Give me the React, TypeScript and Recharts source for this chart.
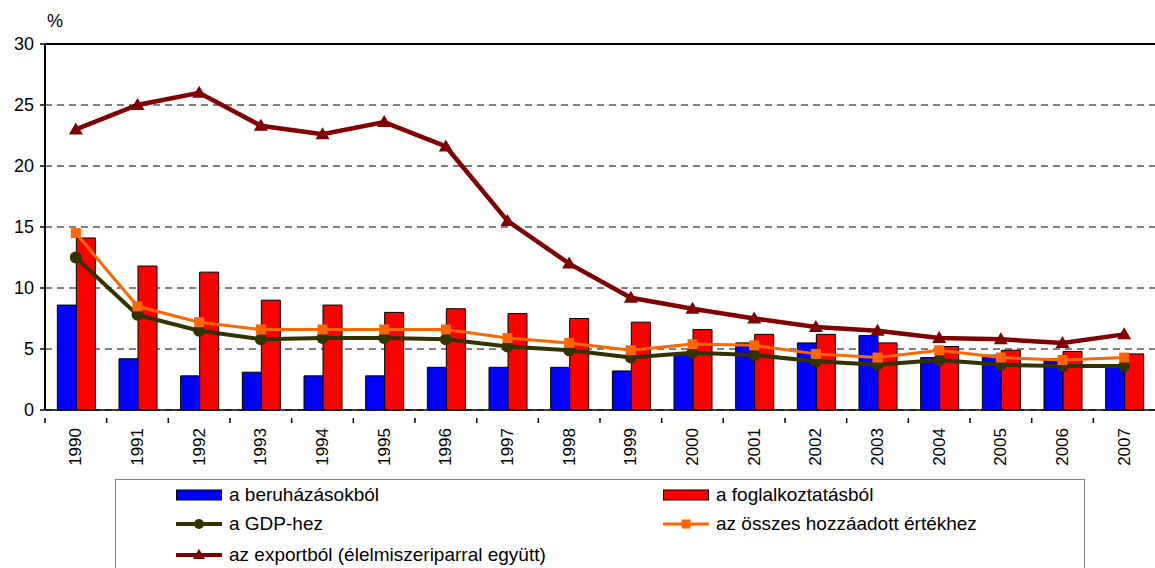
import React from "react";
import {
  ComposedChart,
  Bar,
  Line,
  XAxis,
  YAxis,
  CartesianGrid,
  ReferenceLine,
} from "recharts";

const YEARS = [
  "1990", "1991", "1992", "1993", "1994", "1995", "1996", "1997", "1998",
  "1999", "2000", "2001", "2002", "2003", "2004", "2005", "2006", "2007",
];
const BERUHAZAS = [8.6, 4.2, 2.8, 3.1, 2.8, 2.8, 3.5, 3.5, 3.5, 3.2, 4.6, 5.5, 5.5, 6.1, 4.3, 4.5, 4.2, 3.6];
const FOGLALKOZTATAS = [14.1, 11.8, 11.3, 9.0, 8.6, 8.0, 8.3, 7.9, 7.5, 7.2, 6.6, 6.2, 6.2, 5.5, 5.2, 4.9, 4.8, 4.6];
const GDP = [12.5, 7.8, 6.5, 5.8, 5.9, 5.9, 5.8, 5.2, 4.9, 4.3, 4.7, 4.5, 4.0, 3.7, 4.1, 3.7, 3.6, 3.6];
const OSSZES = [14.5, 8.5, 7.2, 6.6, 6.6, 6.6, 6.6, 5.9, 5.5, 4.9, 5.4, 5.3, 4.6, 4.3, 4.9, 4.3, 4.1, 4.3];
const EXPORT = [23.0, 25.0, 26.0, 23.3, 22.6, 23.6, 21.6, 15.5, 12.0, 9.2, 8.3, 7.5, 6.8, 6.5, 5.9, 5.8, 5.5, 6.2];
const Y_TICKS = [0, 5, 10, 15, 20, 25, 30];

const FONT = '"Liberation Sans", Arial, sans-serif';
const BLUE = "#0000FF";
const RED = "#FF0000";
const OLIVE = "#333300";
const ORANGE = "#FF6600";
const MAROON = "#800000";

const data = YEARS.map((year, i) => ({
  year,
  beruhazas: BERUHAZAS[i],
  foglalkoztatas: FOGLALKOZTATAS[i],
  gdp: GDP[i],
  osszes: OSSZES[i],
  exportt: EXPORT[i],
}));

const W = 1155;
const H = 568;
const Y_AXIS_W = 45;
const X_AXIS_H = 158;
const BAND = (W - Y_AXIS_W) / YEARS.length;

function YearTick(props: any) {
  const { x, y, payload } = props;
  const half = payload?.offset ?? BAND / 2;
  return (
    <g>
      <line x1={x - half} x2={x - half} y1={y} y2={y + 5} stroke="#000" strokeWidth={1.5} />
      <text
        x={x}
        y={y + 10}
        transform={`rotate(-90, ${x}, ${y + 10})`}
        textAnchor="end"
        dominantBaseline="central"
        fontSize={17}
        fontFamily={FONT}
        fill="#000"
      >
        {payload.value}
      </text>
    </g>
  );
}

const triangleDot = (props: any) => {
  const { cx, cy, index } = props;
  if (cx == null || cy == null) return <g key={`t${index}`} />;
  return (
    <polygon
      key={`t${index}`}
      points={`${cx},${cy - 7} ${cx + 7},${cy + 5} ${cx - 7},${cy + 5}`}
      fill={MAROON}
    />
  );
};

const squareDot = (props: any) => {
  const { cx, cy, index } = props;
  if (cx == null || cy == null) return <g key={`s${index}`} />;
  return <rect key={`s${index}`} x={cx - 5} y={cy - 5} width={10} height={10} fill={ORANGE} />;
};

const circleDot = (props: any) => {
  const { cx, cy, index } = props;
  if (cx == null || cy == null) return <g key={`c${index}`} />;
  return <circle key={`c${index}`} cx={cx} cy={cy} r={6} fill={OLIVE} />;
};

function BarSwatch({ color }: { color: string }) {
  return (
    <svg width={46} height={12} style={{ display: "block" }}>
      <rect x={0.5} y={1} width={45} height={10} fill={color} stroke="#000" strokeWidth={1} />
    </svg>
  );
}

function LineSwatch({ color, marker, width }: { color: string; marker: string; width: number }) {
  return (
    <svg width={46} height={16} style={{ display: "block" }}>
      <line x1={0} x2={46} y1={8} y2={8} stroke={color} strokeWidth={width} />
      {marker === "circle" && <circle cx={23} cy={8} r={5} fill={color} />}
      {marker === "square" && <rect x={18.5} y={3.5} width={9} height={9} fill={color} />}
      {marker === "triangle" && <polygon points="23,2 29,12 17,12" fill={color} />}
    </svg>
  );
}

function LegendItem({ left, top, swatch, label }: { left: number; top: number; swatch: React.ReactNode; label: string }) {
  return (
    <div
      style={{
        position: "absolute",
        left,
        top,
        display: "flex",
        alignItems: "center",
        whiteSpace: "nowrap",
        transform: "translateY(-50%)",
      }}
    >
      {swatch}
      <span style={{ marginLeft: 7, fontSize: 19 }}>{label}</span>
    </div>
  );
}

export default function App() {
  return (
    <div
      style={{
        position: "absolute",
        left: 0,
        top: 0,
        width: W,
        height: H,
        overflow: "hidden",
        background: "#fff",
        fontFamily: FONT,
      }}
    >
      <ComposedChart
        width={W}
        height={H}
        data={data}
        margin={{ top: 44, right: 0, left: 0, bottom: 0 }}
        barCategoryGap="20%"
        barGap={0}
      >
        <CartesianGrid vertical={false} stroke="#000" strokeDasharray="7 5" />
        <ReferenceLine y={30} stroke="#000" strokeWidth={2} />
        <XAxis
          dataKey="year"
          height={X_AXIS_H}
          interval={0}
          tickLine={false}
          axisLine={{ stroke: "#000", strokeWidth: 1.5 }}
          tick={<YearTick />}
        />
        <YAxis
          width={Y_AXIS_W}
          domain={[0, 30]}
          ticks={Y_TICKS}
          interval={0}
          tickSize={5}
          tickMargin={6}
          axisLine={{ stroke: "#000", strokeWidth: 2 }}
          tickLine={{ stroke: "#000", strokeWidth: 1.5 }}
          tick={{ fill: "#000", fontSize: 18, fontFamily: FONT }}
        />
        <Bar dataKey="beruhazas" fill={BLUE} stroke="#000" strokeWidth={1} isAnimationActive={false} />
        <Bar dataKey="foglalkoztatas" fill={RED} stroke="#000" strokeWidth={1} isAnimationActive={false} />
        <Line
          type="linear"
          dataKey="gdp"
          stroke={OLIVE}
          strokeWidth={4}
          dot={circleDot}
          activeDot={false}
          isAnimationActive={false}
        />
        <Line
          type="linear"
          dataKey="osszes"
          stroke={ORANGE}
          strokeWidth={3}
          dot={squareDot}
          activeDot={false}
          isAnimationActive={false}
        />
        <Line
          type="linear"
          dataKey="exportt"
          stroke={MAROON}
          strokeWidth={4.5}
          dot={triangleDot}
          activeDot={false}
          isAnimationActive={false}
        />
      </ComposedChart>

      <div style={{ position: "absolute", left: 47, top: 11, fontSize: 18 }}>%</div>

      <div
        style={{
          position: "absolute",
          left: 115,
          top: 479,
          width: 970,
          height: 120,
          border: "1px solid #808080",
          boxSizing: "border-box",
        }}
      />
      <LegendItem left={176} top={495} swatch={<BarSwatch color={BLUE} />} label="a beruházásokból" />
      <LegendItem left={663} top={495} swatch={<BarSwatch color={RED} />} label="a foglalkoztatásból" />
      <LegendItem left={176} top={524} swatch={<LineSwatch color={OLIVE} marker="circle" width={4} />} label="a GDP-hez" />
      <LegendItem
        left={663}
        top={524}
        swatch={<LineSwatch color={ORANGE} marker="square" width={3} />}
        label="az összes hozzáadott értékhez"
      />
      <LegendItem
        left={176}
        top={555}
        swatch={<LineSwatch color={MAROON} marker="triangle" width={4} />}
        label="az exportból (élelmiszeriparral együtt)"
      />
    </div>
  );
}
